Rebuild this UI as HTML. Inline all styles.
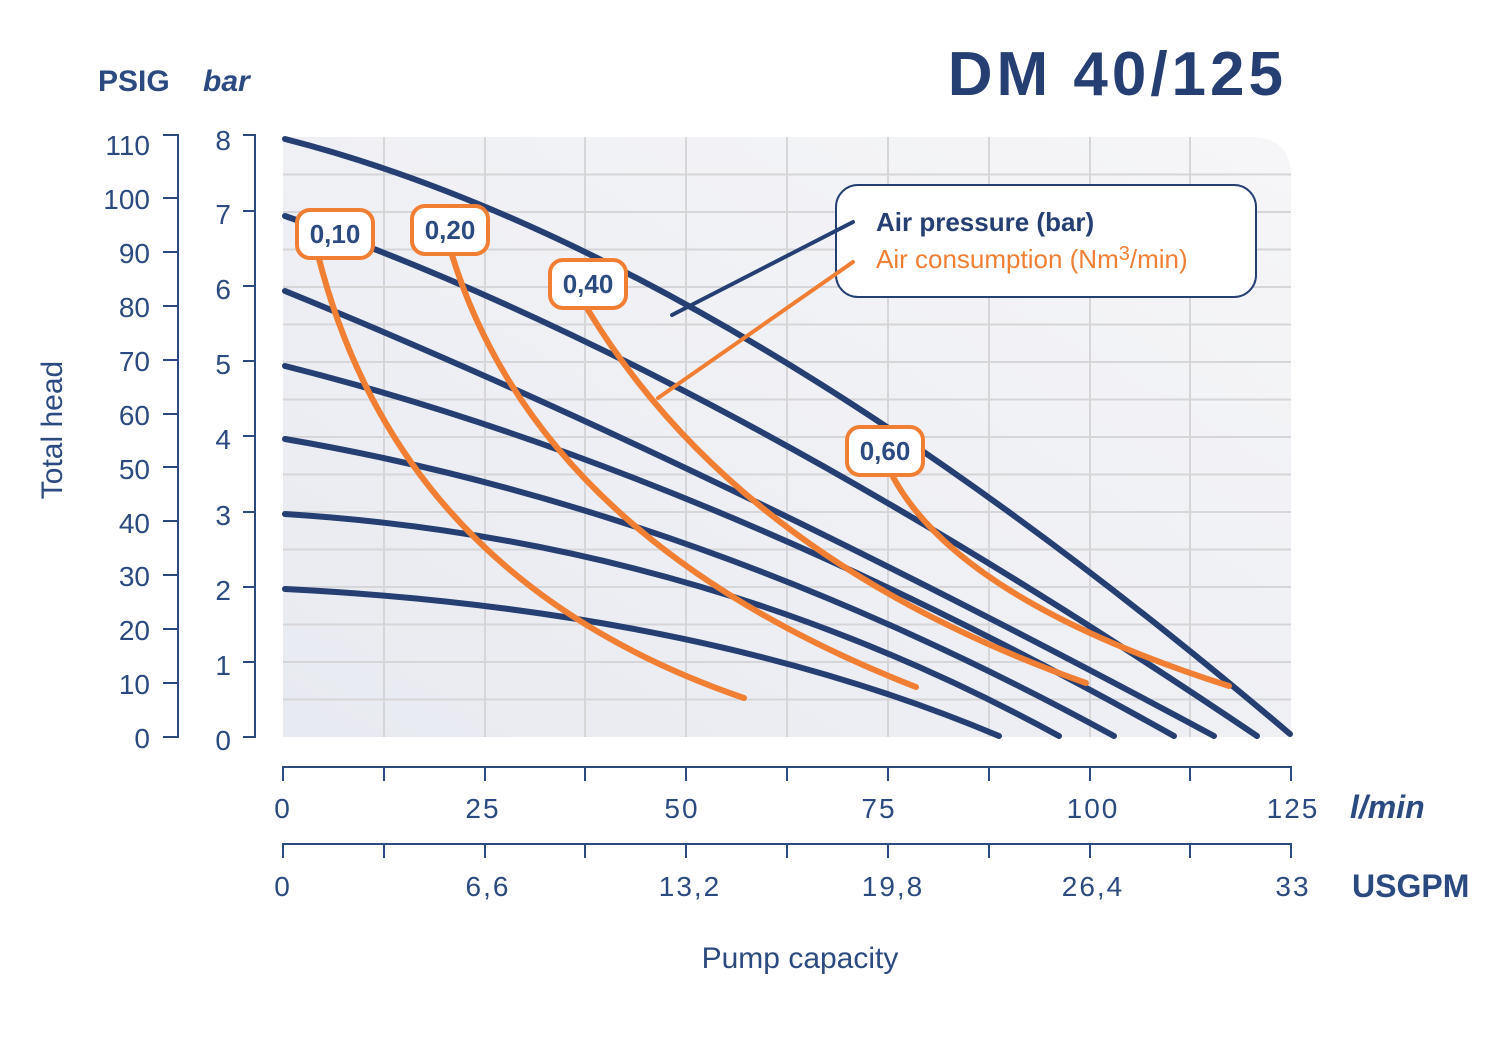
<!DOCTYPE html>
<html><head><meta charset="utf-8"><style>
body{margin:0;background:#fff}
svg{display:block}
text{font-family:"Liberation Sans",sans-serif;fill:#2b4a80}
</style></head><body>
<svg width="1500" height="1039" viewBox="0 0 1500 1039">
<defs>
<linearGradient id="bg" x1="0" y1="1" x2="1" y2="0">
<stop offset="0" stop-color="#e8eaf1"/><stop offset="1" stop-color="#f6f6f8"/>
</linearGradient>
</defs>
<path d="M283,137 H1251 Q1291,137 1291,177 V737 H283 Z" fill="url(#bg)"/>
<g stroke="#d6d6d8" stroke-width="2">
<line x1="384" y1="137" x2="384" y2="737"/><line x1="485" y1="137" x2="485" y2="737"/>
<line x1="585" y1="137" x2="585" y2="737"/><line x1="686" y1="137" x2="686" y2="737"/>
<line x1="787" y1="137" x2="787" y2="737"/><line x1="888" y1="137" x2="888" y2="737"/>
<line x1="989" y1="137" x2="989" y2="737"/><line x1="1090" y1="137" x2="1090" y2="737"/>
<line x1="1190" y1="137" x2="1190" y2="737"/>
<line x1="283" y1="174.5" x2="1291" y2="174.5"/><line x1="283" y1="212" x2="1291" y2="212"/>
<line x1="283" y1="249.5" x2="1291" y2="249.5"/><line x1="283" y1="287" x2="1291" y2="287"/>
<line x1="283" y1="324.5" x2="1291" y2="324.5"/><line x1="283" y1="362" x2="1291" y2="362"/>
<line x1="283" y1="399.5" x2="1291" y2="399.5"/><line x1="283" y1="437" x2="1291" y2="437"/>
<line x1="283" y1="474.5" x2="1291" y2="474.5"/><line x1="283" y1="512" x2="1291" y2="512"/>
<line x1="283" y1="549.5" x2="1291" y2="549.5"/><line x1="283" y1="587" x2="1291" y2="587"/>
<line x1="283" y1="624.5" x2="1291" y2="624.5"/><line x1="283" y1="662" x2="1291" y2="662"/>
<line x1="283" y1="699.5" x2="1291" y2="699.5"/>
</g>
<g fill="none" stroke="#253f73" stroke-width="6" stroke-linecap="round">
<path d="M285,139 Q720,250 1290,734"/>
<path d="M285,216 Q700,360 1257,736"/>
<path d="M285,291 Q700,460 1214,736"/>
<path d="M285,366 Q700,470 1174,736"/>
<path d="M285,439 Q700,510 1114,736"/>
<path d="M285,514 Q700,540 1059,736"/>
<path d="M285,589 Q700,610 999,736"/>
</g>
<g fill="none" stroke="#f07f33" stroke-width="6" stroke-linecap="round">
<path d="M318,255 Q400,580 744,698"/>
<path d="M452,255 Q540,540 916,687"/>
<path d="M588,310 Q740,560 1086,683"/>
<path d="M893,477 Q960,600 1229,686"/>
</g>
<g fill="#fff" stroke="#f07f33" stroke-width="4">
<rect x="297" y="210" width="76" height="48" rx="13"/>
<rect x="412" y="206" width="76" height="48" rx="13"/>
<rect x="550" y="260" width="76" height="48" rx="13"/>
<rect x="847" y="427" width="76" height="48" rx="13"/>
</g>
<g font-size="26" font-weight="bold" text-anchor="middle">
<text x="335" y="243">0,10</text><text x="450" y="239">0,20</text>
<text x="588" y="293">0,40</text><text x="885" y="460">0,60</text>
</g>
<rect x="836" y="185" width="420" height="112" rx="22" fill="#fff" stroke="#253f73" stroke-width="2"/>
<line x1="853" y1="222" x2="672" y2="315" stroke="#253f73" stroke-width="4" stroke-linecap="round"/>
<line x1="853" y1="262" x2="658" y2="398" stroke="#f07f33" stroke-width="4" stroke-linecap="round"/>
<text x="876" y="231" font-size="26" font-weight="bold" style="fill:#253f73">Air pressure (bar)</text>
<text x="876" y="268" font-size="26" style="fill:#f07f33">Air consumption (Nm<tspan dy="-8" font-size="20">3</tspan><tspan dy="8">/min)</tspan></text>
<text x="1287" y="95" font-size="62" font-weight="bold" text-anchor="end" letter-spacing="4" style="fill:#253f73">DM 40/125</text>
<text x="98" y="91" font-size="30" font-weight="bold">PSIG</text>
<text x="203" y="91" font-size="30" font-weight="bold" font-style="italic">bar</text>
<g stroke="#2b4a80" stroke-width="2" fill="none">
<path d="M163,135 H178 V737 H163"/>
<path d="M243,135 H255 V737 H243"/>
<path d="M163,683 H178 M163,629 H178 M163,575 H178 M163,521 H178 M163,467 H178 M163,414 H178 M163,360 H178 M163,306 H178 M163,252 H178 M163,198 H178"/>
<path d="M243,662 H255 M243,587 H255 M243,512 H255 M243,436 H255 M243,361 H255 M243,286 H255 M243,211 H255"/>
<path d="M283,781 V767 H1291 V781 M384,767 V781 M485,767 V781 M585,767 V781 M686,767 V781 M787,767 V781 M888,767 V781 M989,767 V781 M1090,767 V781 M1190,767 V781"/>
<path d="M283,858 V844 H1291 V858 M384,844 V858 M485,844 V858 M585,844 V858 M686,844 V858 M787,844 V858 M888,844 V858 M989,844 V858 M1090,844 V858 M1190,844 V858"/>
</g>
<g font-size="28" text-anchor="end">
<text x="150" y="155">110</text><text x="150" y="209">100</text><text x="150" y="263">90</text>
<text x="150" y="317">80</text><text x="150" y="371">70</text><text x="150" y="425">60</text>
<text x="150" y="479">50</text><text x="150" y="533">40</text><text x="150" y="586">30</text>
<text x="150" y="640">20</text><text x="150" y="694">10</text><text x="150" y="748">0</text>
<text x="231" y="150">8</text><text x="231" y="224">7</text><text x="231" y="299">6</text>
<text x="231" y="374">5</text><text x="231" y="449">4</text><text x="231" y="525">3</text>
<text x="231" y="600">2</text><text x="231" y="675">1</text><text x="231" y="750">0</text>
</g>
<text transform="translate(62,430) rotate(-90)" font-size="30" text-anchor="middle">Total head</text>
<g font-size="28" text-anchor="middle" letter-spacing="2">
<text x="283" y="818">0</text><text x="483" y="818">25</text><text x="682" y="818">50</text>
<text x="879" y="818">75</text><text x="1093" y="818">100</text><text x="1293" y="818">125</text>
<text x="283" y="896">0</text><text x="488" y="896">6,6</text><text x="690" y="896">13,2</text>
<text x="893" y="896">19,8</text><text x="1093" y="896">26,4</text><text x="1293" y="896">33</text>
</g>
<text x="1350" y="818" font-size="32" font-weight="bold" font-style="italic">l/min</text>
<text x="1352" y="897" font-size="32" font-weight="bold">USGPM</text>
<text x="800" y="968" font-size="30" text-anchor="middle">Pump capacity</text>
</svg>
</body></html>
